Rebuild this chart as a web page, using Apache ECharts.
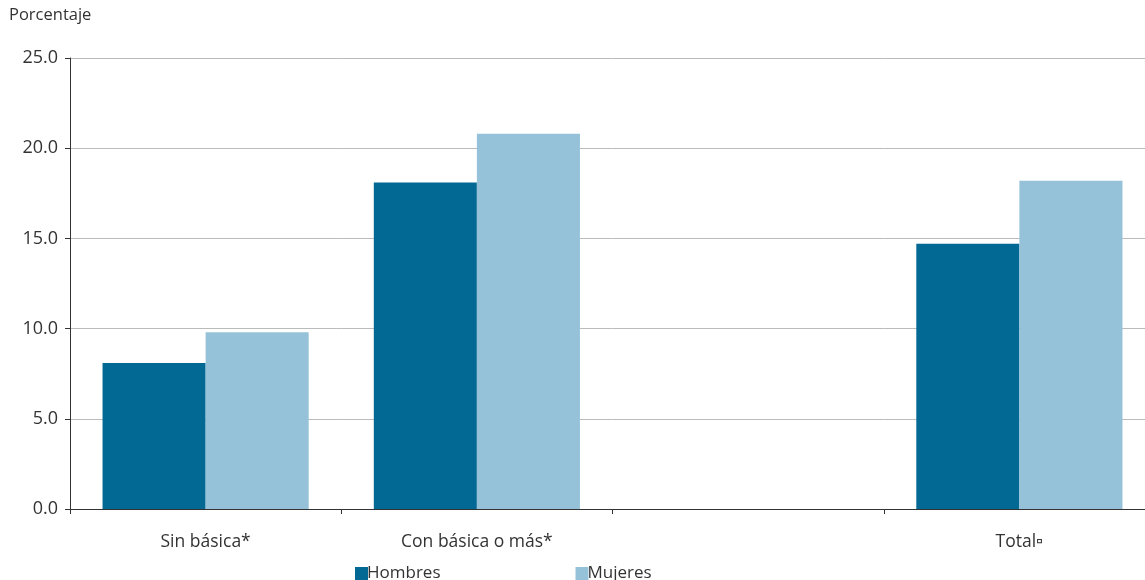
<!DOCTYPE html>
<html>
<head>
<meta charset="utf-8">
<script src="https://cdn.jsdelivr.net/npm/echarts@6/dist/echarts.min.js"></script>
<style>html,body{margin:0;padding:0;background:#fff;overflow:hidden;width:1145px;height:580px}#c{width:1155px;height:580px}</style>
</head>
<body>
<div id="c"></div>
<script>
const categories = ['Sin básica*', 'Con básica o más*', '', 'Total▫'];
const hombres = [8.1, 18.1, null, 14.7];
const mujeres = [9.8, 20.8, null, 18.2];
const yTicks = [0, 5, 10, 15, 20, 25];
const seriesNames = ['Hombres', 'Mujeres'];

const FONT = '"Open Sans", Lato, sans-serif';
const chart = echarts.init(document.getElementById('c'), null, {renderer: 'canvas'});
chart.setOption({
  animation: false,
  textStyle: {fontFamily: FONT},
  graphic: [{
    type: 'text', left: 9, top: 7,
    style: {text: 'Porcentaje', font: '16.5px ' + FONT, fill: '#333'}
  }],
  legend: {
    top: 560, left: 350, itemGap: 135,
    itemWidth: 13, itemHeight: 13, icon: 'rect',
    textStyle: {fontSize: 17, color: '#333', fontFamily: FONT, padding: [0, 0, 0, -6]},
    data: seriesNames
  },
  grid: {left: 70, right: 0, top: 58, bottom: 71, containLabel: false},
  xAxis: {
    type: 'category', data: categories,
    axisLine: {lineStyle: {color: '#333', width: 1}},
    axisTick: {show: true, length: 5, lineStyle: {color: '#333'}, alignWithLabel: false},
    axisLabel: {color: '#333', fontSize: 17.5, fontFamily: FONT, margin: 24}
  },
  yAxis: {
    type: 'value', min: yTicks[0], max: yTicks[yTicks.length - 1], interval: 5,
    axisLine: {show: true, lineStyle: {color: '#333', width: 1}},
    axisTick: {show: true, length: 5, lineStyle: {color: '#333'}},
    axisLabel: {color: '#333', fontSize: 18, fontFamily: FONT, margin: 12,
      formatter: v => v.toFixed(1)},
    splitLine: {lineStyle: {color: '#bbb', width: 1}}
  },
  series: [
    {name: seriesNames[0], type: 'bar', data: hombres, barGap: '0%', barCategoryGap: '24%',
      itemStyle: {color: '#026894'}},
    {name: seriesNames[1], type: 'bar', data: mujeres, barGap: '0%', barCategoryGap: '24%',
      itemStyle: {color: '#96C2D9'}}
  ]
});
</script>
</body>
</html>
